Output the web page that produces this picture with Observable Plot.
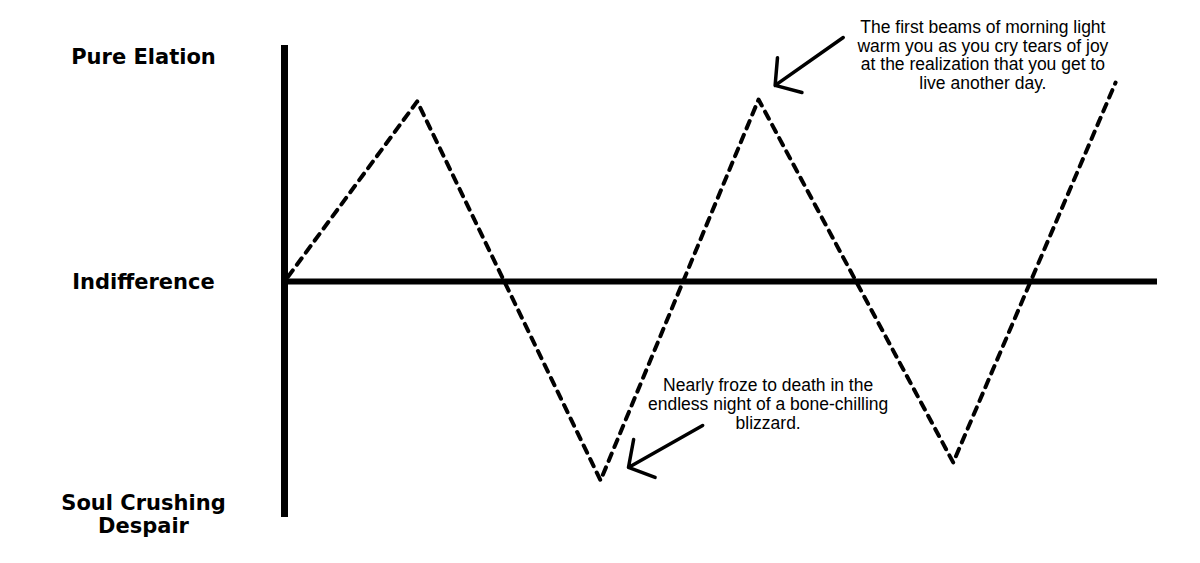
<!DOCTYPE html>
<html>
<head>
<meta charset="utf-8">
<script src="https://cdn.jsdelivr.net/npm/d3@7"></script>
<script src="https://cdn.jsdelivr.net/npm/@observablehq/plot@0.6"></script>
<style>
  html, body { margin: 0; padding: 0; background: #fff; }
  #chart svg { display: block; }
</style>
</head>
<body>
<div id="chart"></div>
<script>
// Mood over time (zigzag)
const moodT = [0.04, 1.52, 3.62, 5.43, 7.66, 9.52];
const moodV = [0.02, 0.763, -0.843, 0.771, -0.767, 0.843];

// Left-side level labels
const levelNames = ["Pure Elation", "Indifference", "Soul Crushing\nDespair"];
const levelValues = [0.955, 0, -0.985];

// Annotations
const noteTexts = [
  "The first beams of morning light\nwarm you as you cry tears of joy\nat the realization that you get to\nlive another day.",
  "Nearly froze to death in the\nendless night of a bone-chilling\nblizzard."
];
const noteX = [8.0, 5.54];
const noteY = [0.96, -0.52];

// Arrows (tail -> tip)
const arrowX1 = [6.40, 4.79];
const arrowY1 = [1.034, -0.61];
const arrowX2 = [5.62, 3.94];
const arrowY2 = [0.831, -0.788];

const mood = moodT.map((t, i) => ({t, v: moodV[i]}));
const levels = levelNames.map((name, i) => ({name, v: levelValues[i]}));
const notes = noteTexts.map((text, i) => ({text, x: noteX[i], y: noteY[i]}));
const arrows = arrowX1.map((x1, i) => ({x1, y1: arrowY1[i], x2: arrowX2[i], y2: arrowY2[i]}));

const chart = Plot.plot({
  width: 1200,
  height: 563,
  marginTop: 45,
  marginBottom: 46,
  marginLeft: 284,
  marginRight: 43,
  x: {domain: [0, 10], axis: null},
  y: {domain: [-1, 1], axis: null},
  style: {background: "#fff"},
  marks: [
    Plot.ruleY([0], {x1: 0, x2: 10, stroke: "#000", strokeWidth: 6}),
    Plot.ruleX([0], {y1: -1, y2: 1, stroke: "#000", strokeWidth: 7}),
    Plot.line(mood, {x: "t", y: "v", stroke: "#000", strokeWidth: 4, strokeDasharray: "8,7"}),
    Plot.text(levels, {
      x: 0, y: "v", text: "name", dx: -141,
      textAnchor: "middle", lineAnchor: "middle",
      fontFamily: "DejaVu Sans", fontWeight: "bold", fontSize: 21, fill: "#000", lineHeight: 1.1
    }),
    Plot.arrow(arrows, {
      x1: "x1", y1: "y1", x2: "x2", y2: "y2",
      stroke: "#000", strokeWidth: 3.5, headAngle: 100, headLength: 29, insetEnd: 0, insetStart: 0
    }),
    Plot.text(notes, {
      x: "x", y: "y", text: "text",
      textAnchor: "middle", lineAnchor: "middle",
      fontFamily: "Liberation Sans", fontSize: 17.5, fill: "#000", lineHeight: 1.08
    })
  ]
});
document.getElementById("chart").appendChild(chart);
</script>
</body>
</html>
